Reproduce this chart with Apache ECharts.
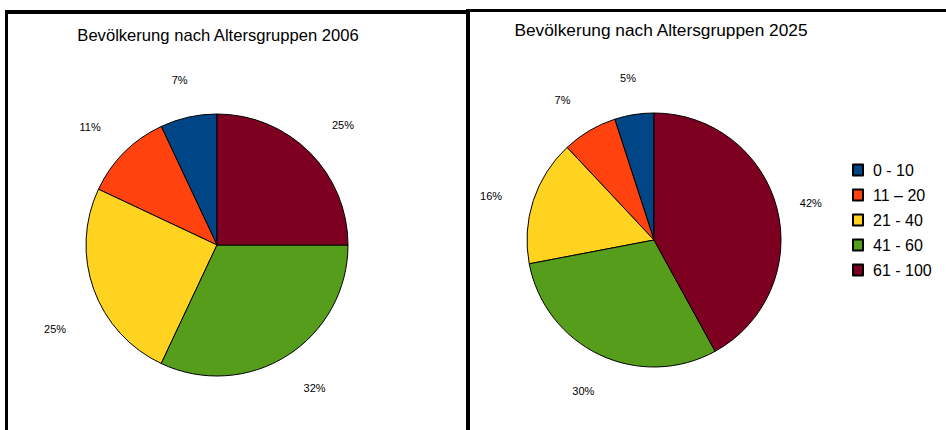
<!DOCTYPE html>
<html>
<head>
<meta charset="utf-8">
<script src="https://cdn.jsdelivr.net/npm/echarts@6/dist/echarts.min.js"></script>
<style>html,body{margin:0;padding:0;background:#fff;}#c{width:946px;height:430px;}</style>
</head>
<body>
<div id="c"></div>
<script>
const categories = ['0 - 10', '11 \u2013 20', '21 - 40', '41 - 60', '61 - 100'];
const values2006 = [7, 11, 25, 32, 25];
const values2025 = [5, 7, 16, 30, 42];
const titles = ['Bev\u00f6lkerung nach Altersgruppen 2006', 'Bev\u00f6lkerung nach Altersgruppen 2025'];
const colors = ['#004586', '#ff420e', '#ffd320', '#579d1c', '#7e0021'];

// label nudges (style only), per slice, [dx, dy]
const labelNudge2006 = [[0, 2], [-6, 3], [-1, 26], [6, -1], [5, 1]];
const labelNudge2025 = [[0, 2], [-7, 3], [-5, 7], [0, 1], [-4, 4]];

const FONT = '"Liberation Sans", Arial, Helvetica, sans-serif';
const chart = echarts.init(document.getElementById('c'), null, {renderer: 'svg'});

function toData(vals) {
  return categories.map((name, i) => ({name: name, value: vals[i]}));
}
function mainPie(vals, center, r) {
  return {
    type: 'pie', center: center, radius: r, startAngle: 90, clockwise: false,
    data: toData(vals), label: {show: false}, labelLine: {show: false},
    itemStyle: {borderColor: '#000', borderWidth: 1},
    emphasis: {disabled: true}, silent: true, animation: false
  };
}
function labelPie(vals, center, r0, r1, nudge) {
  return {
    type: 'pie', center: center, radius: [r0, r1], startAngle: 90, clockwise: false,
    data: categories.map((name, i) => ({name: name, value: vals[i], label: {offset: nudge[i], color: '#000'}})),
    avoidLabelOverlap: false,
    itemStyle: {color: 'rgba(0,0,0,0)', borderWidth: 0},
    label: {show: true, position: 'inside', formatter: '{c}%', fontSize: 11, color: '#000', fontFamily: FONT},
    labelLine: {show: false}, emphasis: {disabled: true}, silent: true, animation: false
  };
}

chart.setOption({
  animation: false,
  color: colors,
  legend: {
    orient: 'vertical', left: 847, top: 157, icon: 'rect',
    itemWidth: 10, itemHeight: 11, itemGap: 9,
    data: categories,
    textStyle: {fontSize: 16, color: '#000', fontFamily: FONT, padding: [0, 0, 0, 5]}
  },
  graphic: [
    {type: 'rect', shape: {x: 5, y: 10, width: 3, height: 420}, style: {fill: '#000'}},
    {type: 'rect', shape: {x: 5, y: 10, width: 463, height: 4}, style: {fill: '#000'}},
    {type: 'rect', shape: {x: 466, y: 9, width: 4, height: 421}, style: {fill: '#000'}},
    {type: 'rect', shape: {x: 466, y: 9, width: 480, height: 3}, style: {fill: '#000'}},
    {type: 'text', x: 218, y: 35, style: {text: titles[0], textAlign: 'center', textVerticalAlign: 'middle', fontSize: 16.6, fontFamily: FONT, fill: '#000'}},
    {type: 'text', x: 661, y: 30, style: {text: titles[1], textAlign: 'center', textVerticalAlign: 'middle', fontSize: 17.3, fontFamily: FONT, fill: '#000'}}
  ],
  series: [
    mainPie(values2006, [217, 245], 131),
    mainPie(values2025, [654, 240], 127),
    labelPie(values2006, [217, 245], 155, 181, labelNudge2006),
    labelPie(values2025, [654, 240], 150, 176, labelNudge2025)
  ]
});
</script>
</body>
</html>
